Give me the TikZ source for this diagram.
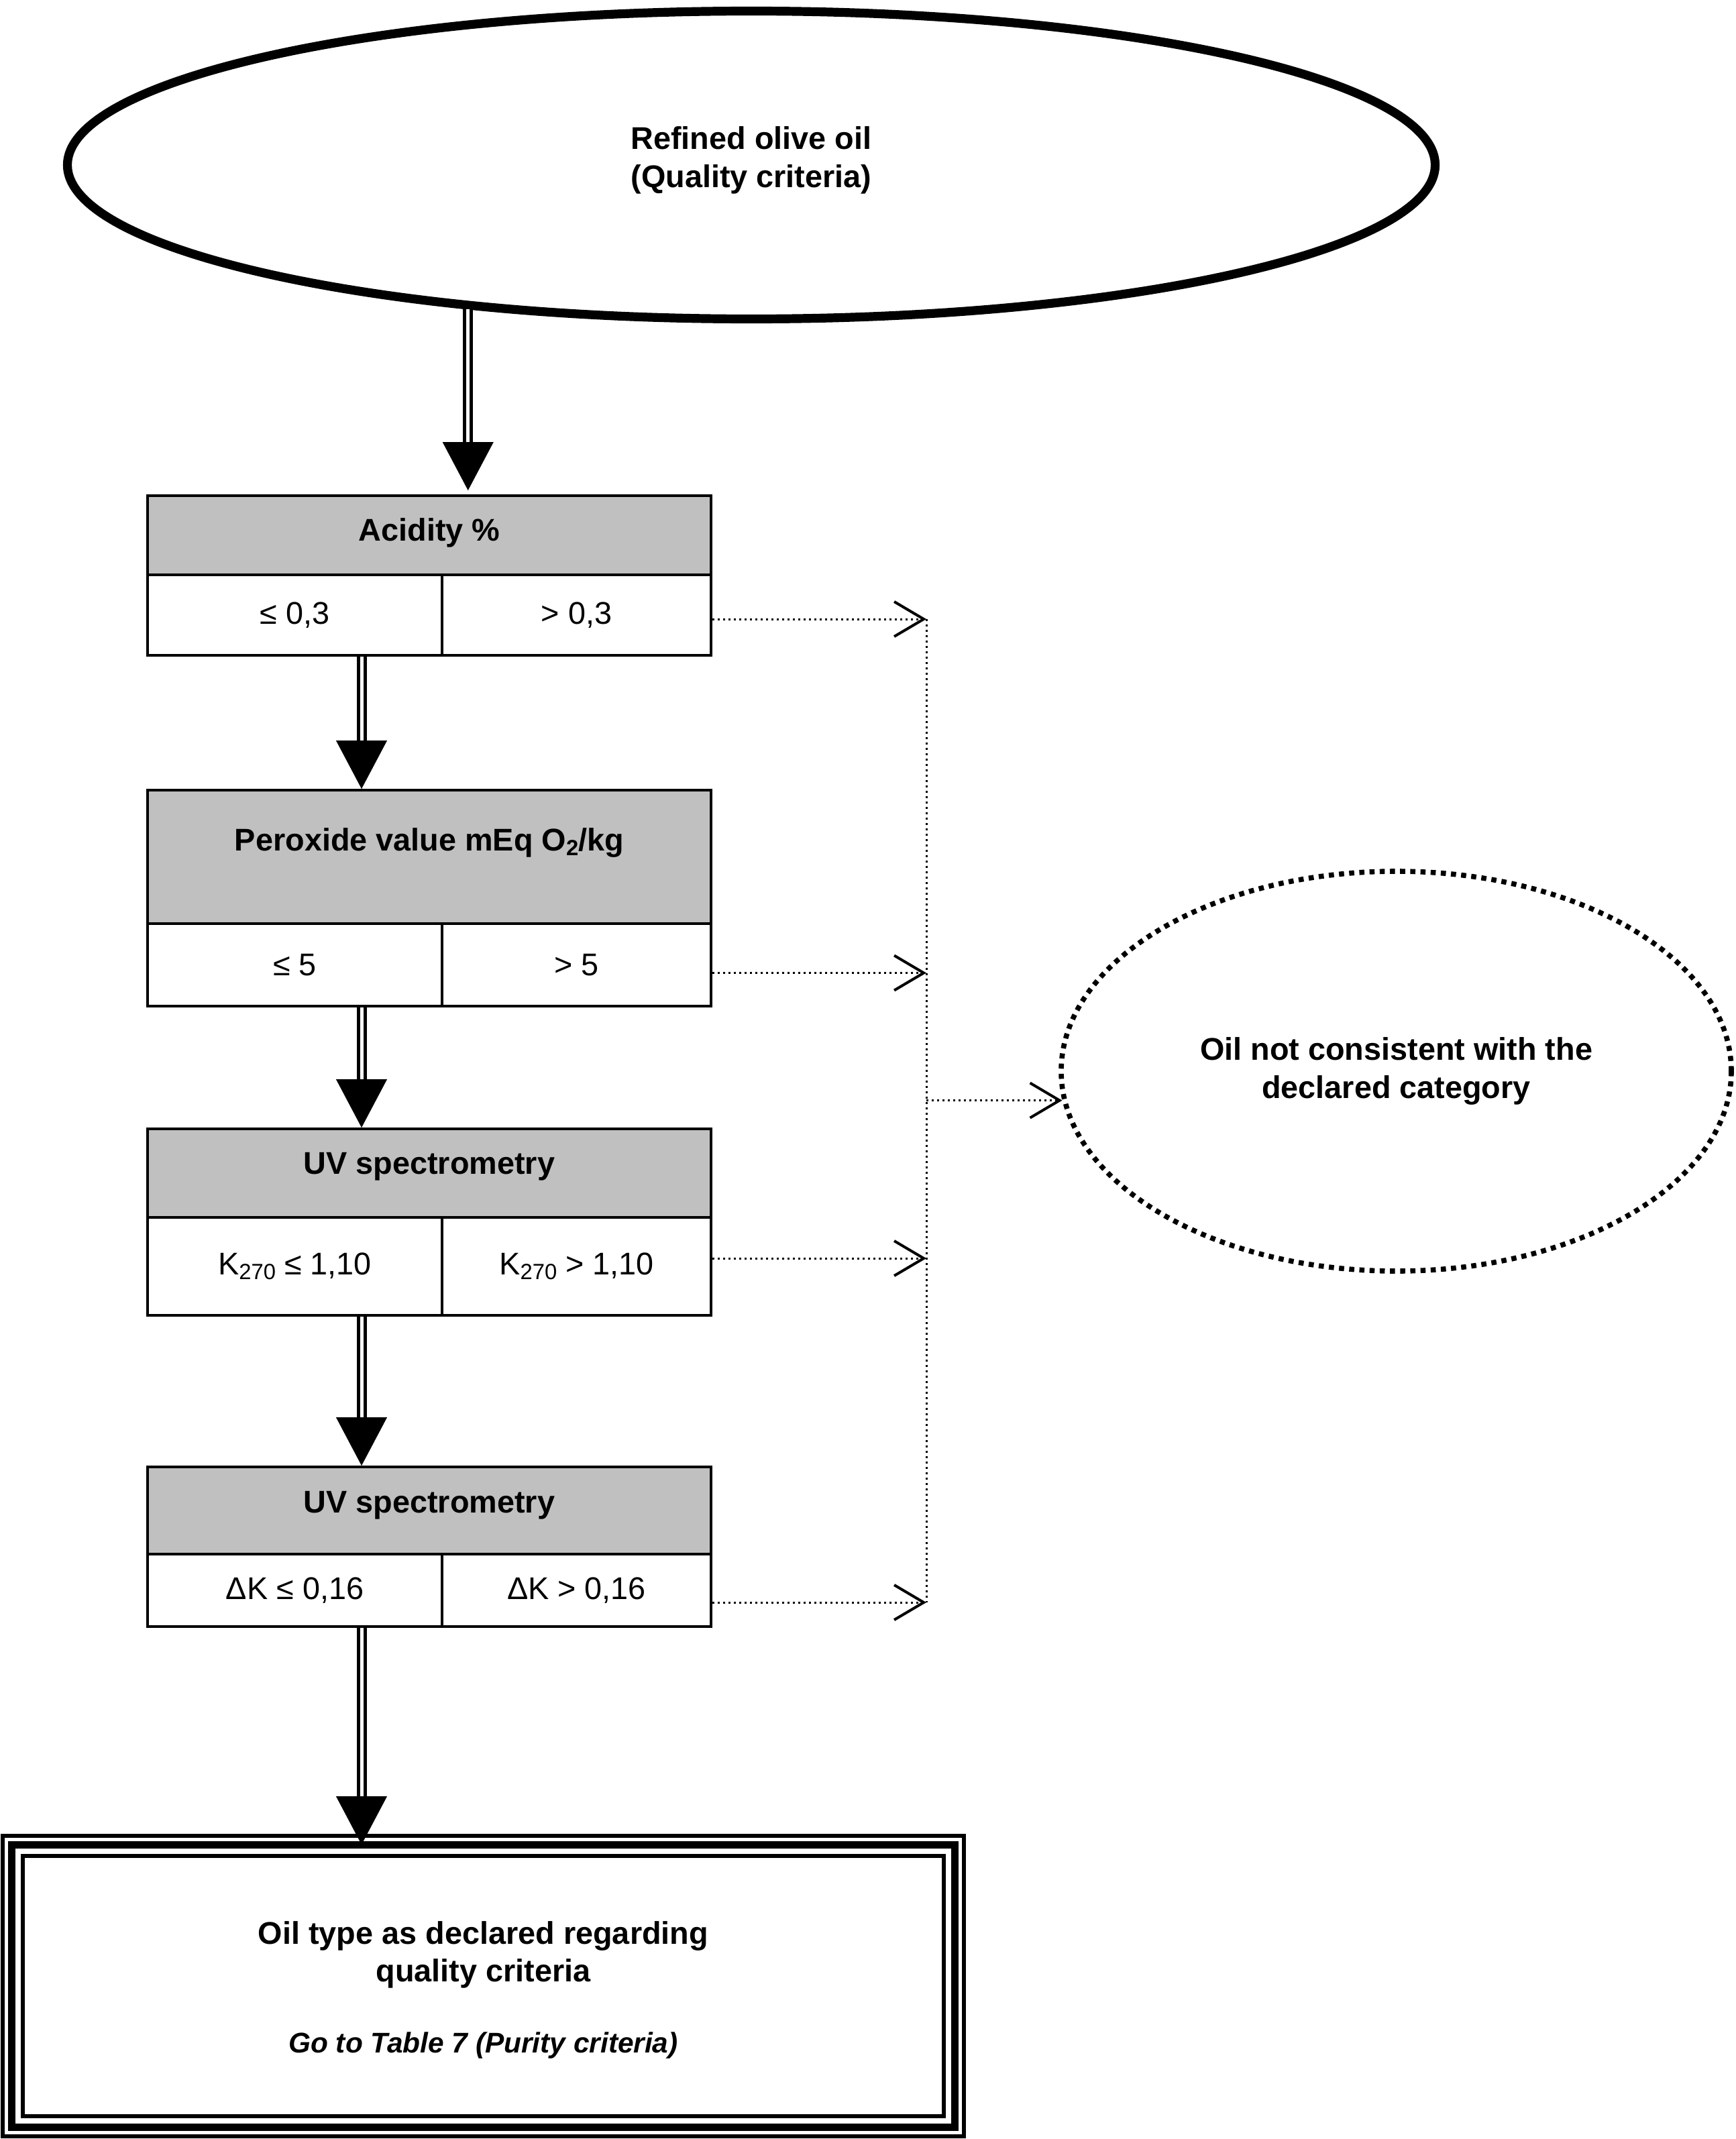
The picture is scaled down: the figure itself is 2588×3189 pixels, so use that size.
\documentclass[tikz,border=0pt]{standalone}
\usepackage{fontspec}
\setmainfont{Liberation Sans}
\usetikzlibrary{arrows.meta,shapes.geometric}
\definecolor{hdrgray}{RGB}{192,192,192}
\newcommand\mysub[1]{\raisebox{-0.3ex}{\fontsize{8.2}{9}\selectfont #1}}
\begin{document}
\begin{tikzpicture}[x=0.25pt,y=-0.25pt,
  every node/.style={font=\fontsize{11.7}{14.25}\selectfont},
  hdr/.style={draw, fill=hdrgray, line width=1pt, rectangle, inner sep=0pt, minimum width=210pt},
  cellL/.style={draw, line width=1pt, rectangle, inner sep=0pt, minimum width=109.75pt},
  cellR/.style={draw, line width=1pt, rectangle, inner sep=0pt, minimum width=100.25pt},
  htext/.style={anchor=base, font=\fontsize{11.7}{14.25}\selectfont\bfseries},
  dbl/.style={draw, line width=1.25pt, double=white, double distance=1.25pt,
    -{Triangle[length=18pt,width=19pt,line width=0.1pt]}},
  dotln/.style={draw, line width=0.75pt, dash pattern=on 0.75pt off 1.25pt},
  dotarr/.style={dotln, -{Straight Barb[length=11pt,width=13pt,line width=1pt]}}
]
\useasboundingbox (0,0) rectangle (2588,3189);

% top ellipse
\node[draw, ellipse, line width=3.3pt, minimum width=509.75pt, minimum height=114.75pt,
  inner sep=0pt] (top) at (1120,246) {};
\node[align=center, font=\fontsize{11.7}{14.25}\selectfont\bfseries]
  (toptext) at (1120,239) {Refined olive oil\\(Quality criteria)};

% box 1
\node[hdr, minimum height=29.5pt] (h1) at (640,798) {};
\node[htext] (t1) at (640,806) {Acidity \%};
\node[cellL, minimum height=30pt] (c1l) at (439.5,917) {≤ 0,3};
\node[cellR, minimum height=30pt] (c1r) at (859.5,917) {> 0,3};

% box 2
\node[hdr, minimum height=49.75pt] (h2) at (640,1277.5) {};
\node[htext] (t2) at (640,1268) {Peroxide value mEq O\mysub{2}/kg};
\node[cellL, minimum height=30.75pt] (c2l) at (439.5,1438.5) {≤ 5};
\node[cellR, minimum height=30.75pt] (c2r) at (859.5,1438.5) {> 5};

% box 3
\node[hdr, minimum height=33pt] (h3) at (640,1749) {};
\node[htext] (t3) at (640,1750) {UV spectrometry};
\node[cellL, minimum height=36.5pt] (c3l) at (439.5,1888) {K\mysub{270} ≤ 1,10};
\node[cellR, minimum height=36.5pt] (c3r) at (859.5,1888) {K\mysub{270} > 1,10};

% box 4
\node[hdr, minimum height=32.5pt] (h4) at (640,2252) {};
\node[htext] (t4) at (640,2255) {UV spectrometry};
\node[cellL, minimum height=27pt] (c4l) at (439.5,2371) {ΔK ≤ 0,16};
\node[cellR, minimum height=27pt] (c4r) at (859.5,2371) {ΔK > 0,16};

% final box (triple border)
\node[draw, line width=1.5pt, rectangle, inner sep=0pt, minimum width=343.25pt,
  minimum height=97pt] (final) at (720.5,2961) {};
\node[align=center, font=\fontsize{11.7}{14}\selectfont\bfseries]
  (finaltext) at (720.5,2967)
  {Oil type as declared regarding\\quality criteria\\[12.5pt]{\fontsize{10.6}{14}\selectfont\itshape Go to Table 7 (Purity criteria)}};
\draw[line width=2.75pt] ([shift={(-3.375pt,3.375pt)}]final.north west) rectangle ([shift={(3.375pt,-3.375pt)}]final.south east);
\draw[line width=1.4pt] ([shift={(-6.75pt,6.75pt)}]final.north west) rectangle ([shift={(6.75pt,-6.75pt)}]final.south east);

% reject ellipse
\node[draw, ellipse, line width=1.9pt, dash pattern=on 1.9pt off 1.9pt,
  minimum width=249.75pt, minimum height=149pt, inner sep=0pt, align=center,
  font=\fontsize{11.7}{14.25}\selectfont\bfseries]
  (rej) at (2081.5,1597) {Oil not consistent with the\\declared category};

% double arrows
\coordinate (ax) at (539,0);
\coordinate (vx) at (1381,0);
\draw[dbl, shorten >=1.5pt] (top.207.7) -- (top.207.7 |- h1.north);
\draw[dbl] (c1l.south -| ax) -- (h2.north -| ax);
\draw[dbl] (c2l.south -| ax) -- (h3.north -| ax);
\draw[dbl] (c3l.south -| ax) -- (h4.north -| ax);
\draw[dbl] (c4l.south -| ax) -- ([yshift=3.5pt]final.north -| ax);

% dotted connectors
\coordinate (d1) at ([yshift=-1.5pt]c1r.east);
\coordinate (d2) at ([yshift=-3pt]c2r.east);
\coordinate (d3) at ([yshift=3pt]c3r.east);
\coordinate (d4) at ([yshift=-4.5pt]c4r.east);
\draw[dotarr] (d1) -- (d1 -| vx);
\draw[dotarr] (d2) -- (d2 -| vx);
\draw[dotarr] (d3) -- (d3 -| vx);
\draw[dotarr] (d4) -- (d4 -| vx);
\draw[dotln] (d1 -| vx) -- (d4 -| vx);
\draw[dotarr] (vx |- rej.185) -- (rej.185);
\end{tikzpicture}
\end{document}
